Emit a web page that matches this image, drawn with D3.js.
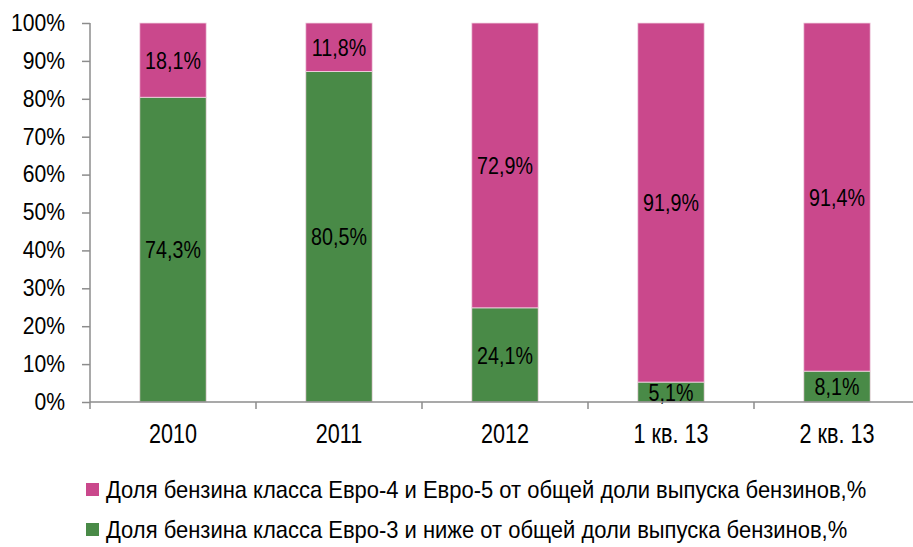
<!DOCTYPE html>
<html>
<head>
<meta charset="utf-8">
<script src="https://cdn.jsdelivr.net/npm/d3@7"></script>
<style>
  body { margin: 0; background: #fff; }
  svg text { font-family: "Liberation Sans", Arial, sans-serif; fill: #000; }
</style>
</head>
<body>
<div id="chart"></div>
<script>
// periods on the x axis
var periods = ["2010", "2011", "2012", "1 кв. 13", "2 кв. 13"];
// share of Euro-3 and lower, %
var euro3 = [74.3, 80.5, 24.1, 5.1, 8.1];
// share of Euro-4 and Euro-5, %
var euro45 = [18.1, 11.8, 72.9, 91.9, 91.4];
var yTicks = [0, 0.1, 0.2, 0.3, 0.4, 0.5, 0.6, 0.7, 0.8, 0.9, 1];
var legendNames = [
  "Доля бензина класса Евро-4 и Евро-5 от общей доли выпуска бензинов,%",
  "Доля бензина класса Евро-3 и ниже от общей доли выпуска бензинов,%"
];

var width = 913, height = 547;
var pink = "#ca488c", green = "#498a47", axisColor = "#8c8c8c";

var rows = periods.map(function(p, i) {
  return { period: p, euro3: euro3[i], euro45: euro45[i] };
});

var stack = d3.stack().keys(["euro3", "euro45"]).offset(d3.stackOffsetExpand);
var series = stack(rows);

var svg = d3.select("#chart").append("svg")
  .attr("width", width)
  .attr("height", height);

var x = d3.scaleBand().domain(periods).range([90, 920])
  .paddingInner(0.6).paddingOuter(0.3);
var y = d3.scaleLinear().domain([0, 1]).range([402, 23]);

var colors = { euro3: green, euro45: pink };

// narrow look: place text by transform and squeeze it horizontally
function squeeze(sel, fx, fy, sx) {
  sel.attr("transform", function(d, i) {
    return "translate(" + fx(d, i) + "," + fy(d, i) + ") scale(" + sx + ",1)";
  });
}

var layers = svg.selectAll(".layer").data(series).enter().append("g")
  .attr("class", "layer")
  .attr("fill", function(d) { return colors[d.key]; });

layers.selectAll("rect").data(function(d) { return d; }).enter().append("rect")
  .attr("x", function(d) { return x(d.data.period); })
  .attr("y", function(d) { return y(d[1]); })
  .attr("width", x.bandwidth())
  .attr("height", function(d) { return y(d[0]) - y(d[1]); })
  .attr("stroke", "#f2d7e4")
  .attr("stroke-width", 0.8);

layers.selectAll("text").data(function(d) {
    return d.map(function(v) { return { v: v, key: d.key }; });
  }).enter().append("text")
  .attr("dy", "0.36em")
  .attr("text-anchor", "middle")
  .attr("font-size", 24)
  .text(function(d) { return String(d.v.data[d.key]).replace(".", ",") + "%"; })
  .call(squeeze,
    function(d) { return x(d.v.data.period) + x.bandwidth() / 2; },
    function(d) { return (y(d.v[0]) + y(d.v[1])) / 2; }, 0.82);

// y axis
var yAxis = svg.append("g").attr("transform", "translate(90,0)")
  .call(d3.axisLeft(y).tickValues(yTicks).tickSize(8)
    .tickFormat(function(d) { return Math.round(d * 100) + "%"; }));
yAxis.select(".domain").attr("stroke", axisColor).attr("stroke-width", 1.5)
  .attr("d", "M0,23V409");
yAxis.selectAll(".tick line").attr("stroke", axisColor).attr("stroke-width", 1.5);
yAxis.selectAll(".tick text")
  .attr("font-size", 23).attr("fill", "#000")
  .attr("x", -25 / 0.92)
  .attr("transform", "scale(0.92,1)");

// x axis
var xAxis = svg.append("g").attr("transform", "translate(0,402)");
xAxis.append("line").attr("x1", 90).attr("x2", width).attr("y1", 0).attr("y2", 0)
  .attr("stroke", axisColor).attr("stroke-width", 1.5);
xAxis.selectAll(".sep").data(periods.slice(1)).enter().append("line")
  .attr("x1", function(d) { return x(d) - (x.step() - x.bandwidth()) / 2; })
  .attr("x2", function(d) { return x(d) - (x.step() - x.bandwidth()) / 2; })
  .attr("y1", 0).attr("y2", 7)
  .attr("stroke", axisColor).attr("stroke-width", 1.5);
xAxis.selectAll(".lbl").data(periods).enter().append("text")
  .attr("text-anchor", "middle")
  .attr("font-size", 27)
  .text(function(d) { return d; })
  .call(squeeze,
    function(d) { return x(d) + x.bandwidth() / 2; },
    function() { return 41; }, 0.8);

// legend
var legend = svg.selectAll(".legend").data([pink, green]).enter().append("g")
  .attr("transform", function(d, i) { return "translate(86," + (483 + i * 40) + ")"; });
legend.append("rect").attr("width", 13).attr("height", 13)
  .attr("fill", function(d) { return d; });
legend.append("text")
  .attr("font-size", 24)
  .text(function(d, i) { return legendNames[i]; })
  .call(squeeze, function() { return 20; }, function() { return 15; }, 0.915);
</script>
</body>
</html>
